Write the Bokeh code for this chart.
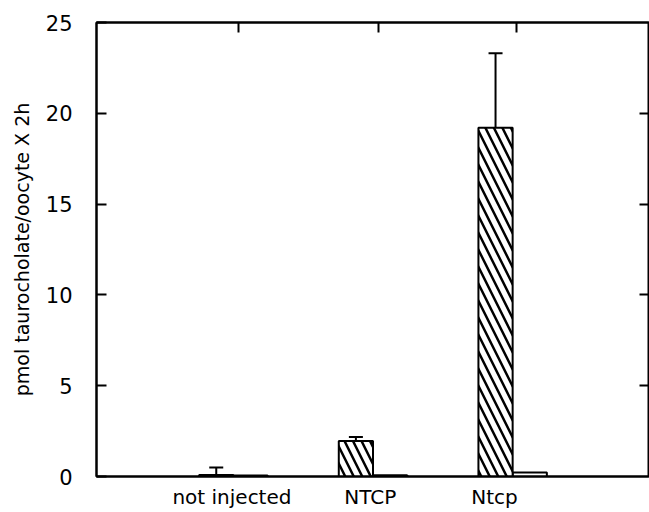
from bokeh.plotting import figure
from bokeh.models import Range1d, LinearAxis, FixedTicker, Whisker, ColumnDataSource
from bokeh.embed import file_html
from bokeh.resources import INLINE

# data
groups = ["not injected", "NTCP", "Ntcp"]
group_pos = [1, 2, 3]
label_pos = [0.99, 1.98, 2.87]
hatched_vals = [0.08, 1.95, 19.2]
hatched_err = [0.5, 2.17, 23.3]
white_vals = [0.06, 0.07, 0.22]
y_ticks = [0, 5, 10, 15, 20, 25]
top_ticks = [1.04, 2.04, 3.03]

bar_w = 0.245
FONT = "DejaVu Sans"

p = figure(width=649, height=511, output_backend="svg", toolbar_location=None,
           x_range=Range1d(0.02, 3.98), y_range=Range1d(0, 25),
           min_border_left=96, min_border_right=0, min_border_top=22, min_border_bottom=30)
p.grid.visible = False
p.outline_line_color = "black"
p.outline_line_width = 2
p.background_fill_color = "white"
p.border_fill_color = "white"

hx = [g - bar_w / 2 for g in group_pos]
wx = [g + bar_w / 2 for g in group_pos]
src_h = ColumnDataSource(dict(x=hx, top=hatched_vals, err=hatched_err))
src_w = ColumnDataSource(dict(x=wx, top=white_vals))

p.vbar(x="x", top="top", bottom=0, width=bar_w, source=src_w,
       fill_color="white", line_color="black", line_width=2)
p.vbar(x="x", top="top", bottom=0, width=bar_w, source=src_h,
       fill_color="white", line_color="black", line_width=2,
       hatch_pattern="left_diagonal_line", hatch_color="black",
       hatch_scale=17, hatch_weight=2.5)
p.segment(x0="x", y0="top", x1="x", y1="err", source=src_h, line_color="black", line_width=2)
wh = Whisker(base="x", upper="err", lower="err", source=src_h, dimension="height",
             line_color="black", line_width=2)
wh.upper_head.size = 14
wh.upper_head.line_width = 2
wh.upper_head.line_color = "black"
wh.lower_head.size = 0
wh.lower_head.line_alpha = 0
p.add_layout(wh)

# bottom axis (category labels)
xa = p.xaxis[0]
xa.ticker = FixedTicker(ticks=label_pos)
xa.major_label_overrides = {lp: g for lp, g in zip(label_pos, groups)}
xa.major_tick_in = 0
xa.major_tick_out = 0
xa.minor_tick_line_color = None
xa.axis_line_width = 2
xa.major_label_text_font = FONT
xa.major_label_text_font_size = "20px"
xa.major_label_text_color = "black"
xa.major_label_standoff = 8

# left axis
ya = p.yaxis[0]
ya.ticker = FixedTicker(ticks=y_ticks)
ya.major_tick_in = 10
ya.major_tick_out = 0
ya.major_tick_line_width = 2
ya.minor_tick_line_color = None
ya.axis_line_width = 2
ya.major_label_text_font = FONT
ya.major_label_text_font_size = "21px"
ya.major_label_text_color = "black"
ya.major_label_standoff = 24
ya.axis_label = "pmol taurocholate/oocyte X 2h"
ya.axis_label_text_font = FONT
ya.axis_label_text_font_size = "19px"
ya.axis_label_text_font_style = "normal"
ya.axis_label_text_color = "black"
ya.axis_label_standoff = 10

# top axis with inward ticks
ta = LinearAxis(ticker=FixedTicker(ticks=top_ticks), major_label_text_font_size="0px",
                major_tick_in=10, major_tick_out=0, major_tick_line_width=2,
                major_label_standoff=0,
                minor_tick_line_color=None, axis_line_width=2)
ta.major_label_text_alpha = 0
p.add_layout(ta, "above")

# right axis with inward ticks
ra = LinearAxis(ticker=FixedTicker(ticks=[5, 10, 15, 20]), major_label_text_font_size="0px",
                major_tick_in=10, major_tick_out=0, major_tick_line_width=2,
                major_label_standoff=0,
                minor_tick_line_color=None, axis_line_width=2)
ra.major_label_text_alpha = 0
p.add_layout(ra, "right")

open("out.html", "w").write(file_html(p, INLINE))
